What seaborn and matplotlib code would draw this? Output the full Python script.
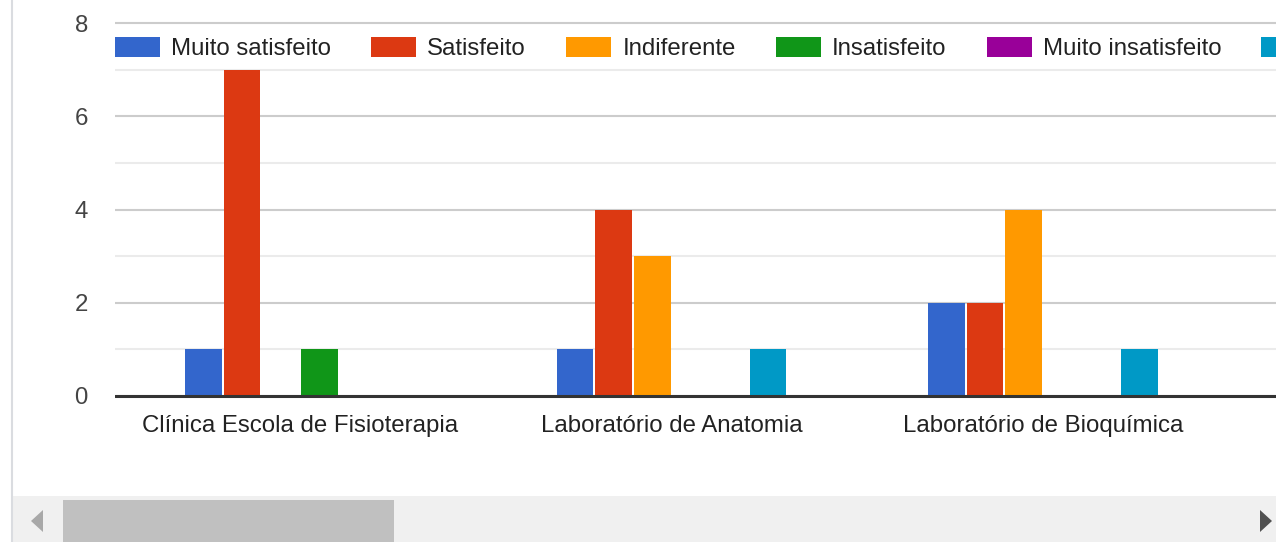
import pandas as pd
import seaborn as sns
import matplotlib
matplotlib.use("Agg")
import matplotlib.pyplot as plt
from matplotlib.patches import Patch, Rectangle, Polygon
from matplotlib.lines import Line2D

# ---- data ----
categories = ["Clínica Escola de Fisioterapia", "Laboratório de Anatomia", "Laboratório de Bioquímica"]
series = ["Muito satisfeito", "Satisfeito", "Indiferente", "Insatisfeito", "Muito insatisfeito", "Não utilizei"]
muito_satisfeito = [1, 1, 2]
satisfeito = [7, 4, 2]
indiferente = [0, 3, 4]
insatisfeito = [1, 0, 0]
muito_insatisfeito = [0, 0, 0]
nao_utilizei = [0, 1, 1]
colors = ["#3366cc", "#dc3912", "#ff9900", "#109618", "#990099", "#0099c6"]
y_ticks = [0, 2, 4, 6, 8]
y_minor = [1, 3, 5, 7]

values = [muito_satisfeito, satisfeito, indiferente, insatisfeito, muito_insatisfeito, nao_utilizei]
rows = []
for s, vals in zip(series, values):
    for c, v in zip(categories, vals):
        rows.append({"categoria": c, "serie": s, "valor": v})
df = pd.DataFrame(rows)

sns.set_theme(style="white")
plt.rcParams["font.family"] = ["Liberation Sans", "DejaVu Sans"]

W, H = 1276, 542
fig = plt.figure(figsize=(W / 100, H / 100), dpi=100)
fig.patch.set_facecolor("white")

def fx(px):
    return px / W

def fy(py):
    return 1 - py / H

ax = fig.add_axes([fx(115), fy(400), fx(1276 - 115), (400 - 18) / H])

sns.barplot(data=df, x="categoria", y="valor", hue="serie", order=categories,
            hue_order=series, palette=colors, saturation=1, width=0.624, gap=0.05,
            linewidth=0, errorbar=None, legend=False, ax=ax, zorder=3)

ax.set_xlim(-0.498, 2.627)
ax.set_ylim(-4 / 46.625, 8 + 5 / 46.625)
ax.set_yticks(y_ticks)
ax.set_yticks(y_minor, minor=True)
ax.yaxis.grid(True, which="major", color="#cccccc", linewidth=1.5)
ax.yaxis.grid(True, which="minor", color="#ebebeb", linewidth=1.5)
ax.xaxis.grid(False)
ax.set_axisbelow(True)
ax.axhline(0, color="#333333", linewidth=2.2, zorder=5)
for sp in ax.spines.values():
    sp.set_visible(False)
ax.set_xlabel("")
ax.set_ylabel("")
ax.tick_params(axis="y", which="both", length=0, pad=19.5, labelsize=17.3, labelcolor="#444444")
ax.tick_params(axis="x", length=0, pad=11, labelsize=17.3, labelcolor="#222222")

# the last legend label lies outside the visible (scrolled) area in the reference
legend_labels = series[:-1] + [""]
handles = [Patch(facecolor=c, edgecolor="none") for c in colors]
leg = ax.legend(handles, legend_labels, loc="center left", bbox_to_anchor=(0, (400 - 48.5) / 382),
                ncol=6, frameon=False, fontsize=17.3, handlelength=1.875, handleheight=0.875,
                handletextpad=0.46, columnspacing=1.67, borderpad=0, borderaxespad=0,
                labelcolor="#222222")

# ---- frame / scrollbar decoration ----
fig.add_artist(Line2D([fx(12), fx(12)], [0, 1], color="#dadce0", linewidth=1.5, transform=fig.transFigure))
fig.add_artist(Rectangle((fx(13), 0), fx(W - 13), (H - 496) / H, facecolor="#f0f0f0",
                         edgecolor="none", transform=fig.transFigure))
fig.add_artist(Rectangle((fx(63), 0), fx(394 - 63), (H - 500) / H, facecolor="#c0c0c0",
                         edgecolor="none", transform=fig.transFigure))
fig.add_artist(Polygon([(fx(43), fy(510)), (fx(43), fy(532)), (fx(31), fy(521))], closed=True,
                       facecolor="#a8a8a8", edgecolor="none", transform=fig.transFigure))
fig.add_artist(Polygon([(fx(1260), fy(510)), (fx(1260), fy(532)), (fx(1272), fy(521))], closed=True,
                       facecolor="#505050", edgecolor="none", transform=fig.transFigure))

fig.savefig("out.png", dpi=100)
